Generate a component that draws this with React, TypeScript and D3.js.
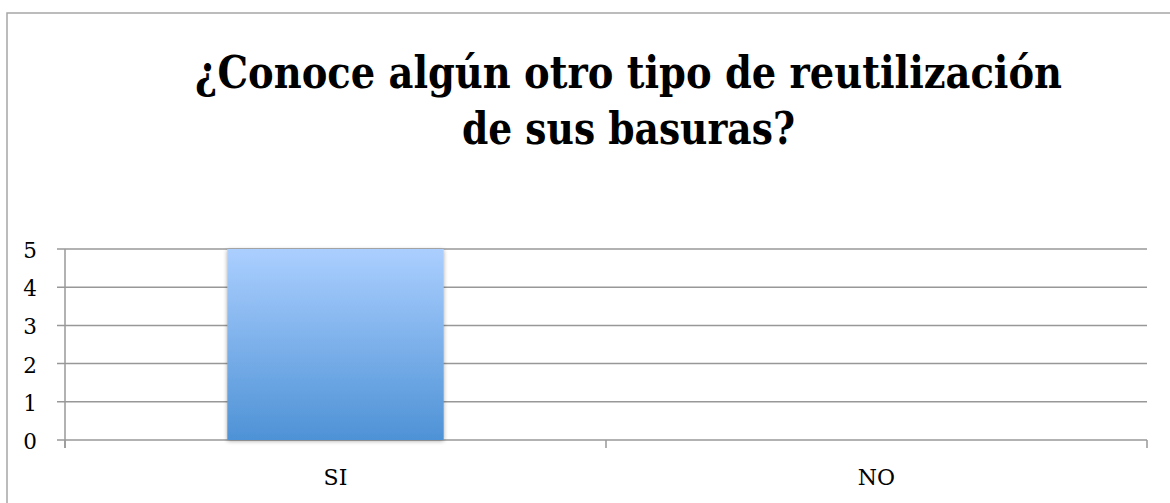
import React from "react";
import * as d3 from "d3";

const categories = ["SI", "NO"];
const values = [5, 0];
const yTicks = [0, 1, 2, 3, 4, 5];
const titleLines = ["¿Conoce algún otro tipo de reutilización", "de sus basuras?"];

export default function App() {
  const W = 1170, H = 503;
  const left = 65, right = 1147, top = 249, bottom = 440;
  const x = d3.scaleBand<string>().domain(categories).range([left, right]).paddingInner(0).paddingOuter(0);
  const y = d3.scaleLinear().domain([0, 5]).range([bottom, top]);
  const bw = x.bandwidth() * 0.4;
  const grid = "#989898";
  const font = '"DejaVu Serif", "Liberation Serif", serif';
  const titleFont = '"DejaVu Serif Condensed", "DejaVu Serif", serif';
  const boundaries = [left, ...categories.map((c) => (x(c) as number) + x.bandwidth())];

  return (
    <div style={{ position: "absolute", left: 0, top: 0 }}>
      <svg width={W} height={H} style={{ display: "block" }}>
        <defs>
          <linearGradient id="barGrad" x1="0" y1="0" x2="0" y2="1">
            <stop offset="0%" stopColor="#abcfff" />
            <stop offset="100%" stopColor="#4e92d6" />
          </linearGradient>
          <filter id="shadow" x="-10%" y="-10%" width="120%" height="120%">
            <feGaussianBlur in="SourceAlpha" stdDeviation="2" />
            <feOffset dx="0" dy="1" result="b" />
            <feComponentTransfer>
              <feFuncA type="linear" slope="0.35" />
            </feComponentTransfer>
            <feMerge>
              <feMergeNode />
              <feMergeNode in="SourceGraphic" />
            </feMerge>
          </filter>
        </defs>
        <rect x={0} y={0} width={W} height={H} fill="#fff" />
        <rect x={7} y={13} width={W + 20} height={H + 20} fill="none" stroke="#a6a6a6" strokeWidth={1.5} />

        <text x={628.5} y={88} textAnchor="middle" style={{ fontFamily: titleFont }} fontWeight="bold" fontSize={45}
          textLength={867} lengthAdjust="spacingAndGlyphs" fill="#000">{titleLines[0]}</text>
        <text x={628.5} y={144} textAnchor="middle" style={{ fontFamily: titleFont }} fontWeight="bold" fontSize={45}
          textLength={333} lengthAdjust="spacingAndGlyphs" fill="#000">{titleLines[1]}</text>

        {yTicks.map((t) => (
          <g key={t}>
            <line x1={left - 8} x2={right} y1={y(t)} y2={y(t)} stroke={grid} strokeWidth={1.5} />
            <text x={37} y={y(t) + 9} textAnchor="end" style={{ fontFamily: font }} fontSize={21.5} fill="#000">{t}</text>
          </g>
        ))}
        <line x1={left} x2={left} y1={top} y2={bottom + 8} stroke={grid} strokeWidth={1.5} />
        {boundaries.map((b, i) => (
          <line key={i} x1={b} x2={b} y1={bottom} y2={bottom + 8} stroke={grid} strokeWidth={1.5} />
        ))}

        {categories.map((c, i) => {
          const cx = (x(c) as number) + x.bandwidth() / 2;
          const h = bottom - y(values[i]);
          return h > 0 ? (
            <rect key={c} x={cx - bw / 2} y={y(values[i])} width={bw} height={h}
              fill="url(#barGrad)" filter="url(#shadow)" />
          ) : null;
        })}

        {categories.map((c) => (
          <text key={c} x={(x(c) as number) + x.bandwidth() / 2} y={485} textAnchor="middle"
            style={{ fontFamily: font }} fontSize={22} fill="#000">{c}</text>
        ))}
      </svg>
    </div>
  );
}
